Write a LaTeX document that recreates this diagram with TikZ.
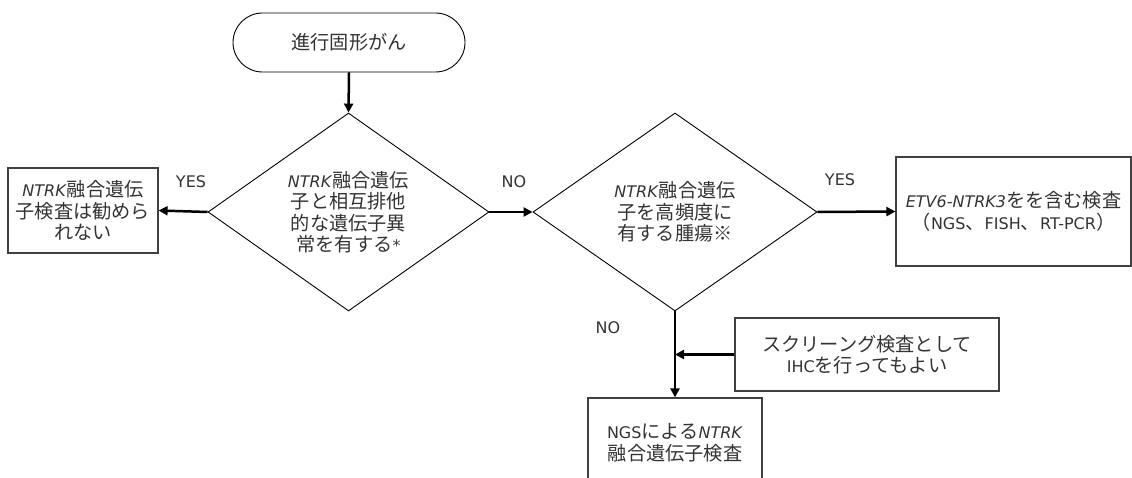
\documentclass[tikz,border=0pt]{standalone}
\usepackage{fontspec}
\setmainfont{DejaVu Sans}
\newfontfamily\jp[Scale=1.2]{Noto Sans CJK JP}
\usetikzlibrary{shapes.geometric,shapes.misc,arrows.meta}
\newcommand{\J}[1]{{\jp #1}}
\begin{document}
\begin{tikzpicture}[x=1pt,y=-1pt,
  txt/.style={font=\fontsize{16}{21.5}\selectfont, text=black!80, align=center},
  box/.style={txt, draw=black!75, line width=1.2pt, rectangle, inner sep=0pt},
  dia/.style={txt, draw=black, line width=0.9pt, diamond, aspect=1.42, inner sep=0pt},
  term/.style={txt, draw=black, line width=0.9pt, rounded rectangle, inner sep=0pt},
  conn/.style={line width=2.5pt, -{Triangle[length=9pt,width=9pt]}},
  lbl/.style={font=\fontsize{16}{20}\selectfont, text=black!80}]
\clip (0,0) rectangle (1132,478);
\node[term, minimum width=232pt, minimum height=59pt] (start) at (349,42.5) {\J{進行固形がん}};
\node[dia, minimum width=281pt, minimum height=198pt] (d1) at (348.5,212)
  {\textit{NTRK}\J{融合遺伝}\\\J{子と相互排他}\\\J{的な遺伝子異}\\\J{常を有する}*};
\node[dia, minimum width=284pt, minimum height=198pt] (d2) at (675,212)
  {\textit{NTRK}\J{融合遺伝}\\\J{子を高頻度に}\\\J{有する腫瘍※}};
\node[box, minimum width=150pt, minimum height=85pt] (left) at (83,210.5)
  {\textit{NTRK}\J{融合遺伝}\\\J{子検査は勧めら}\\\J{れない}};
\node[box, minimum width=235pt, minimum height=109pt] (right) at (1013.5,211.5)
  {\textit{ETV6-NTRK3}\J{をを含む検査}\\\J{（}NGS\J{、}FISH\J{、}RT-PCR\J{）}};
\node[box, minimum width=264pt, minimum height=73pt] (side) at (867,354.5)
  {\J{スクリーング検査として}\\IHC\J{を行ってもよい}};
\node[box, minimum width=174pt, minimum height=90pt] (bottom) at (675,443)
  {NGS\J{による}\textit{NTRK}\\\J{融合遺伝子検査}};
\coordinate (j) at (side.west -| d2.south);
\draw[conn] (start.south) -- (d1.north);
\draw[conn] (d1.west) -- (left.east);
\draw[conn] (d1.east) -- (d2.west);
\draw[conn] (d2.east) -- (right.west);
\draw[conn] (d2.south) -- (bottom.north);
\draw[conn] (side.west) -- (j);
\node[lbl] (yes1) at (191,182) {YES};
\node[lbl] (no1) at (514,182) {NO};
\node[lbl] (yes2) at (840,180) {YES};
\node[lbl] (no2) at (608,328) {NO};
\end{tikzpicture}
\end{document}
